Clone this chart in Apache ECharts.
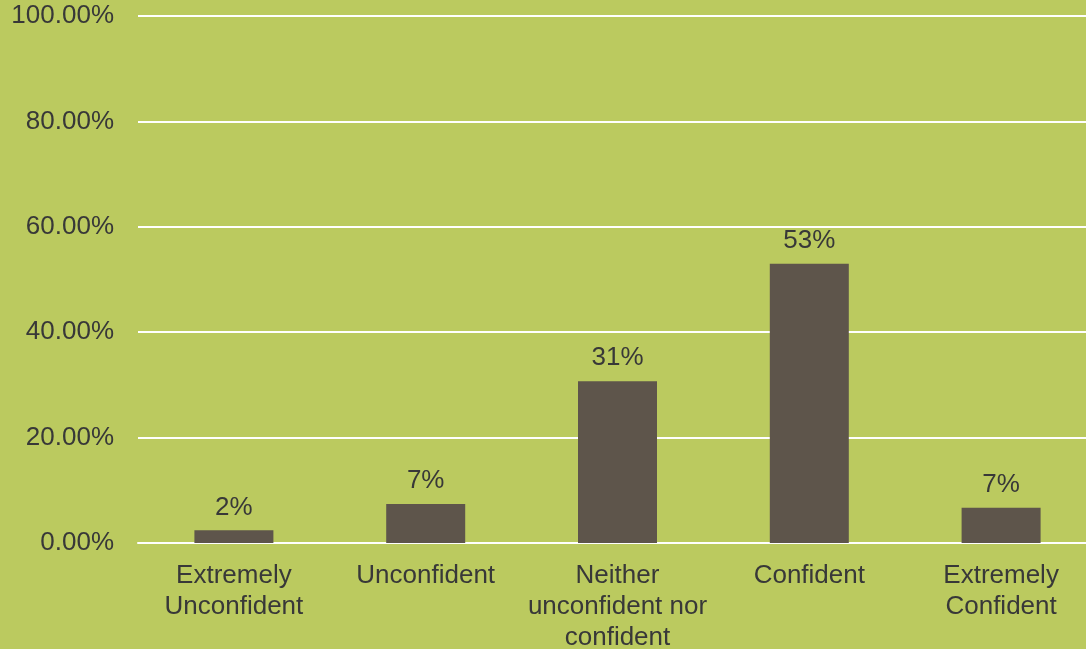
<!DOCTYPE html>
<html>
<head>
<meta charset="utf-8">
<script src="https://cdn.jsdelivr.net/npm/echarts@6/dist/echarts.min.js"></script>
<style>
  html, body { margin: 0; padding: 0; background: #BBCA5F; }
  #chart { width: 1086px; height: 649px; }
</style>
</head>
<body>
<div id="chart"></div>
<script>
// 类别
const categories = [
  "Extremely\nUnconfident",
  "Unconfident",
  "Neither\nunconfident nor\nconfident",
  "Confident",
  "Extremely\nConfident"
];
// 百分比
const percentValues = [2.4, 7.4, 30.7, 53.0, 6.7];
const yTicks = [0, 20, 40, 60, 80, 100];

const chart = echarts.init(document.getElementById("chart"));
const textColor = "#383838";
const font = "Liberation Sans, Arial, sans-serif";

const option = {
  backgroundColor: "#BBCA5F",
  animation: false,
  // 绘图区稍微超出右边界
  grid: {
    left: 138,
    width: 959,
    top: 16,
    bottom: 106,
    containLabel: false,
    outerBoundsMode: "none"
  },
  xAxis: {
    type: "category",
    data: categories,
    axisLine: { show: true, lineStyle: { color: "#ffffff", width: 2 } },
    axisTick: { show: false },
    axisLabel: {
      color: textColor,
      fontFamily: font,
      fontSize: 26,
      lineHeight: 31,
      margin: 17,
      interval: 0
    }
  },
  yAxis: {
    type: "value",
    min: yTicks[0],
    max: yTicks[yTicks.length - 1],
    interval: 20,
    axisLine: { show: false },
    axisTick: { show: false },
    splitLine: { lineStyle: { color: "#ffffff", width: 2 } },
    axisLabel: {
      color: textColor,
      fontFamily: font,
      fontSize: 26,
      margin: 24,
      formatter: (v) => v.toFixed(2) + "%"
    }
  },
  series: [
    {
      type: "bar",
      data: percentValues,
      barWidth: 79,
      itemStyle: { color: "#5E554B" },
      label: {
        show: true,
        position: "top",
        distance: 10,
        color: textColor,
        fontFamily: font,
        fontSize: 26,
        formatter: (p) => Math.round(p.value) + "%"
      }
    }
  ]
};
chart.setOption(option);
</script>
</body>
</html>
